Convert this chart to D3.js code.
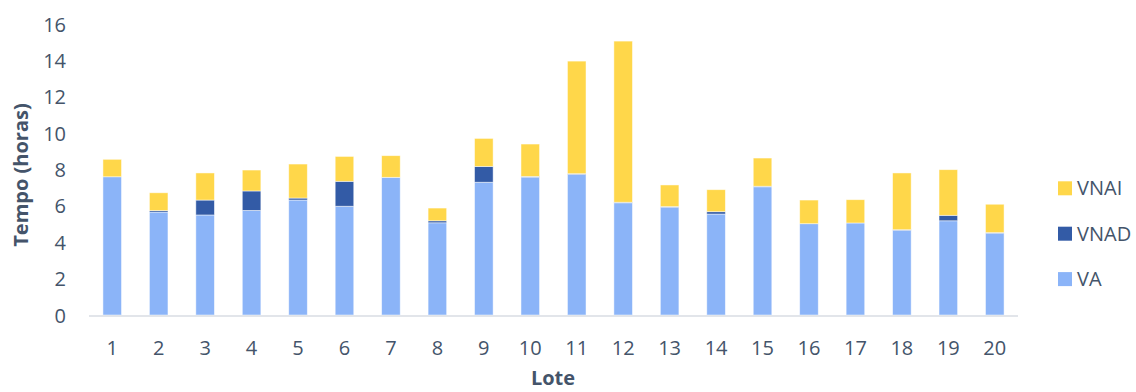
<!DOCTYPE html>
<html><head><meta charset="utf-8">
<script src="https://cdn.jsdelivr.net/npm/d3@7"></script>
<style>body{margin:0;background:#fff}svg{display:block}text{font-family:"Open Sans",sans-serif}</style>
</head><body>
<svg id="c" width="1136" height="392"></svg>
<script>
const lotes = ["1","2","3","4","5","6","7","8","9","10","11","12","13","14","15","16","17","18","19","20"];
const VA   = [7.60,5.66,5.50,5.75,6.32,5.98,7.57,5.07,7.30,7.58,7.73,6.17,5.93,5.55,7.05,5.02,5.06,4.66,5.18,4.50];
const VNAD = [0.00,0.08,0.82,1.07,0.11,1.37,0.00,0.11,0.87,0.04,0.04,0.03,0.03,0.13,0.03,0.00,0.00,0.03,0.30,0.03];
const VNAI = [0.96,0.98,1.49,1.15,1.87,1.37,1.19,0.70,1.54,1.78,6.19,8.86,1.19,1.21,1.55,1.30,1.28,3.12,2.51,1.56];
const seriesNames = ["VA","VNAD","VNAI"];
const colors = {VA:"#8BB4F8", VNAD:"#335BA6", VNAI:"#FFD74A"};
const yTicks = [0,2,4,6,8,10,12,14,16];

const svg = d3.select("#c");
const m = {l:89, r:1018, t:24, b:315};
const x = d3.scaleBand().domain(lotes).range([m.l, m.r]).paddingInner(0.6).paddingOuter(0.3);
const y = d3.scaleLinear().domain([0,16]).range([m.b, m.t]);

const rows = lotes.map((k,i)=>({lote:k, VA:VA[i], VNAD:VNAD[i], VNAI:VNAI[i]}));
const stack = d3.stack().keys(seriesNames)(rows);

svg.append("g").selectAll("g").data(stack).join("g")
  .attr("fill", d=>colors[d.key])
  .selectAll("rect").data(d=>d).join("rect")
  .attr("x", d=>x(d.data.lote))
  .attr("width", x.bandwidth())
  .attr("y", d=>y(d[1]))
  .attr("height", d=>Math.max(0, y(d[0])-y(d[1])))
  .attr("stroke","#ffffff").attr("stroke-opacity",0.6).attr("stroke-width",0.8);

// x axis line
svg.append("line").attr("x1",m.l).attr("x2",m.r).attr("y1",y(0)+1).attr("y2",y(0)+1)
  .attr("stroke","#D9DDE3").attr("stroke-width",1.5);

const txt = "#44546A";
const fs = "20px";
// y ticks
const ya = d3.axisLeft(y).tickValues(yTicks).tickSize(0).tickPadding(0);
const gy = svg.append("g").attr("transform","translate(66,0)").call(ya);
gy.select(".domain").remove();
gy.selectAll("text").attr("fill",txt).style("font-size",fs).attr("dy","0.35em");

// x ticks
const xa = d3.axisBottom(x).tickSize(0).tickPadding(0);
const gx = svg.append("g").attr("transform","translate(0,340)").call(xa);
gx.select(".domain").remove();
gx.selectAll("text").attr("fill",txt).style("font-size",fs).attr("dy","0.35em").attr("y",7.5);

// axis titles
svg.append("text").attr("x",553).attr("y",385).attr("text-anchor","middle")
  .attr("fill",txt).style("font-size",fs).style("font-weight","bold").text("Lote");
svg.append("text").attr("transform","translate(21,175) rotate(-90)").attr("text-anchor","middle").attr("dy","0.35em")
  .attr("fill",txt).style("font-size",fs).style("font-weight","bold").text("Tempo (horas)");

// legend
const leg = ["VNAI","VNAD","VA"];
const lg = svg.append("g").selectAll("g").data(leg).join("g")
  .attr("transform",(d,i)=>`translate(1058,${188.3+i*45.4})`);
lg.append("rect").attr("x",0).attr("y",-7).attr("width",14).attr("height",14).attr("fill",d=>colors[d]);
lg.append("text").attr("x",19).attr("y",0).attr("dy","0.35em").attr("fill",txt).style("font-size",fs).text(d=>d);
</script>
</body></html>
